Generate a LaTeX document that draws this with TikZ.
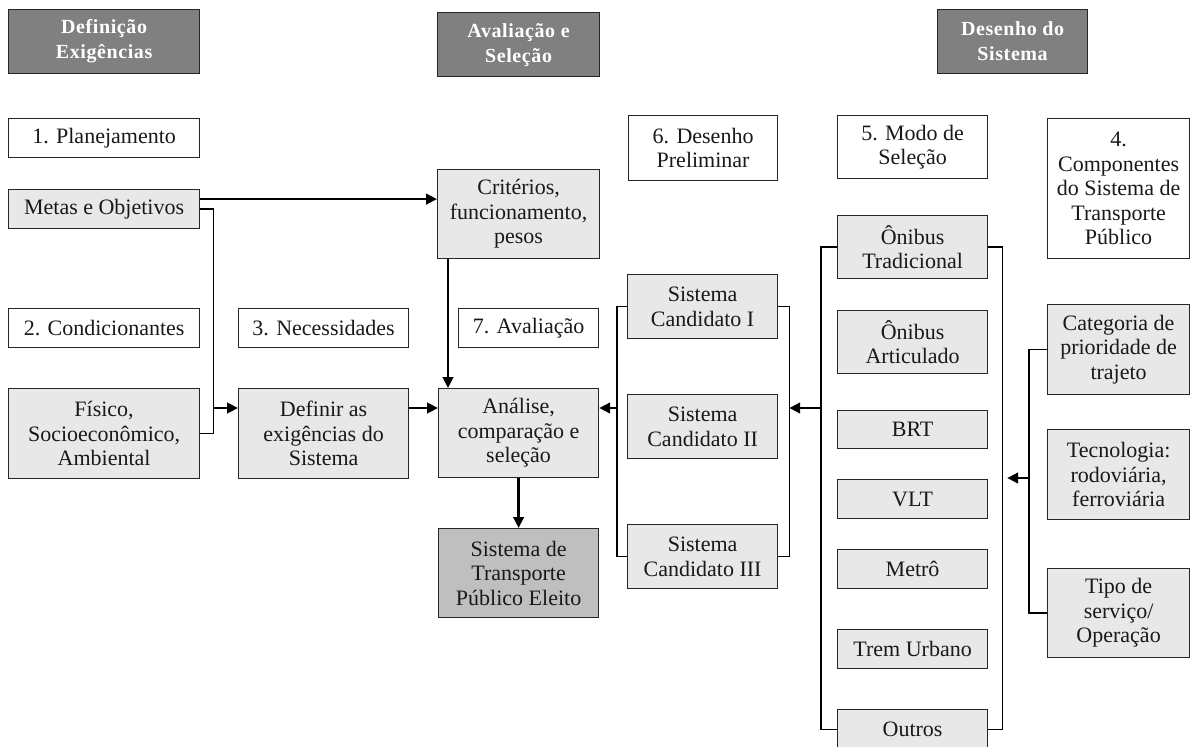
\documentclass[tikz,border=0pt]{standalone}
\usepackage{fontspec}
\setmainfont{Liberation Serif}
\usetikzlibrary{arrows.meta}

\tikzset{
  base/.style={draw=black!85, line width=1.2pt, inner sep=0pt, align=center,
    anchor=north west, text=black!90,
    font=\fontsize{22}{24.5}\selectfont},
  plainbox/.style={base, fill=white},
  greybox/.style={base, fill=black!9},
  resultbox/.style={base, fill=black!25},
  headbox/.style={base, fill=black!50, text=white,
    font=\fontsize{20}{25}\selectfont\bfseries\addfontfeature{LetterSpace=3}},
  flow/.style={line width=2.6pt, -{Triangle[length=11pt,width=10.5pt]}},
  link/.style={line width=1.4pt},
}

\begin{document}
\begin{tikzpicture}[x=1pt, y=-1pt]
\useasboundingbox (0,0) rectangle (1197,747);

% column headers
\node[headbox, minimum width=191pt, minimum height=64pt] (defi) at (8,9) {Definição\\Exigências};
\node[headbox, minimum width=162pt, minimum height=64pt] (aval) at (437,12) {Avaliação e\\Seleção};
\node[headbox, minimum width=150pt, minimum height=64pt] (dese) at (937,9) {Desenho do\\Sistema};

% step titles
\node[plainbox, minimum width=191pt, minimum height=39pt] (plan) at (8,118) {1. Planejamento};
\node[plainbox, minimum width=191pt, minimum height=39pt] (cond) at (8,308) {2. Condicionantes};
\node[plainbox, minimum width=170pt, minimum height=39pt] (nece) at (238,308) {3. Necessidades};
\node[plainbox, minimum width=142pt, minimum height=140pt] (comp) at (1047,118) {4.\\Componentes\\do Sistema de\\Transporte\\Público};
\node[plainbox, minimum width=150pt, minimum height=63pt] (modo) at (837,115) {5. Modo de\\Seleção};
\node[plainbox, minimum width=149pt, minimum height=65pt] (desp) at (628,115) {6. Desenho\\Preliminar};
\node[plainbox, minimum width=140pt, minimum height=39pt] (avsete) at (458,308) {7. Avaliação};

% left and middle columns
\node[greybox, minimum width=191pt, minimum height=39pt] (metas) at (8,189) {Metas e Objetivos};
\node[greybox, minimum width=162pt, minimum height=89pt] (crit) at (437,169) {Critérios,\\funcionamento,\\pesos};
\node[greybox, minimum width=191pt, minimum height=90pt] (fis) at (8,388) {Físico,\\Socioeconômico,\\Ambiental};
\node[greybox, minimum width=170pt, minimum height=90pt] (defn) at (238,388) {Definir as\\exigências do\\Sistema};
\node[greybox, minimum width=160pt, minimum height=89pt] (anal) at (438,388) {Análise,\\comparação e\\seleção};
\node[resultbox, minimum width=160pt, minimum height=89pt] (eleito) at (438,528) {Sistema de\\Transporte\\Público Eleito};

% candidate systems
\node[greybox, minimum width=150pt, minimum height=64pt] (cI) at (627,274) {Sistema\\Candidato I};
\node[greybox, minimum width=150pt, minimum height=64pt] (cII) at (627,394) {Sistema\\Candidato II};
\node[greybox, minimum width=150pt, minimum height=64pt] (cIII) at (627,524) {Sistema\\Candidato III};

% transport modes
\node[greybox, minimum width=150pt, minimum height=63pt] (mA) at (837,215) {Ônibus\\Tradicional};
\node[greybox, minimum width=150pt, minimum height=63pt] (mB) at (837,310) {Ônibus\\Articulado};
\node[greybox, minimum width=150pt, minimum height=38pt] (mC) at (837,410) {BRT};
\node[greybox, minimum width=150pt, minimum height=39pt] (mD) at (837,479) {VLT};
\node[greybox, minimum width=150pt, minimum height=39pt] (mE) at (837,549) {Metrô};
\node[greybox, minimum width=150pt, minimum height=39pt] (mF) at (837,629) {Trem Urbano};
\node[greybox, minimum width=150pt, minimum height=40pt] (mG) at (837,709) {Outros};

% system components
\node[greybox, minimum width=142pt, minimum height=90pt] (kA) at (1047,304) {Categoria de\\prioridade de\\trajeto};
\node[greybox, minimum width=142pt, minimum height=90pt] (kB) at (1047,429) {Tecnologia:\\rodoviária,\\ferroviária};
\node[greybox, minimum width=142pt, minimum height=89pt] (kC) at (1047,568) {Tipo de\\serviço/\\Operação};

% rows and bracket positions
\coordinate (rowA) at (0,408);
\coordinate (rowB) at (0,478);
\coordinate (jL) at ([xshift=13pt]metas.east);
\coordinate (cL) at ([xshift=-10pt]cI.west);
\coordinate (cR) at ([xshift=11pt]cI.east);
\coordinate (mL) at ([xshift=-16pt]mA.west);
\coordinate (mR) at ([xshift=14pt]mA.east);
\coordinate (kL) at ([xshift=-18pt]kA.west);
\coordinate (tipB) at ([xshift=5pt]mR |- rowB);

% brackets
\draw[link] (metas.east) -- (jL) |- (fis.east);
\draw[link] (cI.west) -- (cL) |- (cIII.west);
\draw[link] (cI.east) -- (cR) |- (cIII.east);
\draw[link] (mA.west) -- (mL) |- (mG.west);
\draw[link] (mA.east) -- (mR) |- (mG.east);
\draw[link] (kA.west) -- (kL) |- (kC.west);

% flows
\draw[flow] ([yshift=10pt]metas.east) -- ([yshift=10pt]metas.east -| crit.west);
\draw[flow] (jL |- rowA) -- (defn.west |- rowA);
\draw[flow] (defn.east |- rowA) -- (anal.west |- rowA);
\draw[flow] ([xshift=11pt]crit.south west) -- ([xshift=11pt]crit.south west |- anal.north);
\draw[flow] (anal.south) -- (eleito.north);
\draw[flow] (cL |- rowA) -- (anal.east |- rowA);
\draw[flow] (mL |- rowA) -- (cR |- rowA);
\draw[flow] (kL |- rowB) -- (tipB);
\end{tikzpicture}
\end{document}
